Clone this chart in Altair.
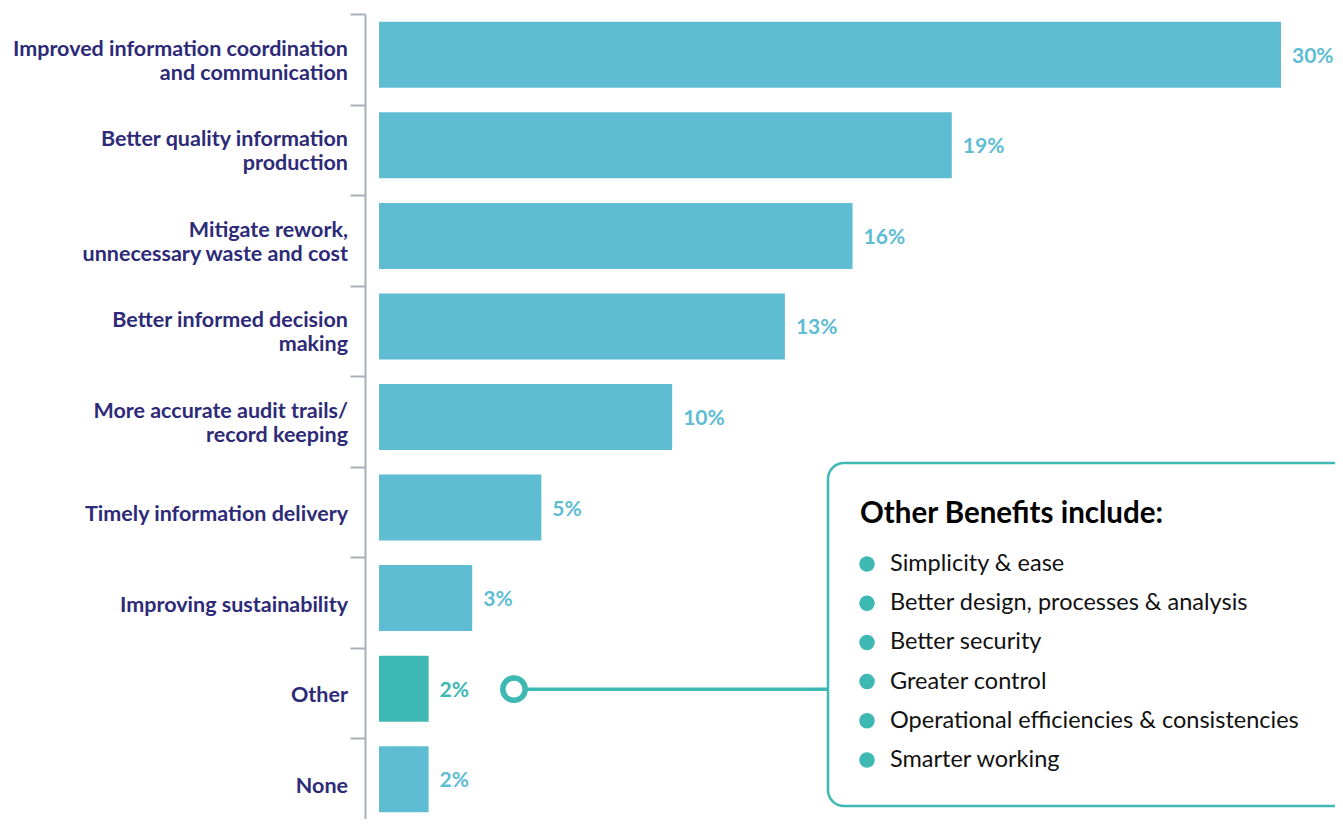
import altair as alt
import pandas as pd

categories = [
    "Improved information coordination|and communication",
    "Better quality information|production",
    "Mitigate rework,|unnecessary waste and cost",
    "Better informed decision|making",
    "More accurate audit trails/|record keeping",
    "Timely information delivery",
    "Improving sustainability",
    "Other",
    "None",
]
bar_values = [30.0, 19.05, 15.75, 13.5, 9.75, 5.4, 3.1, 1.65, 1.65]
value_labels = ["30%", "19%", "16%", "13%", "10%", "5%", "3%", "2%", "2%"]
highlight = [False, False, False, False, False, False, False, True, False]

box_title = "Other Benefits include:"
other_benefits = [
    "Simplicity & ease",
    "Better design, processes & analysis",
    "Better security",
    "Greater control",
    "Operational efficiencies & consistencies",
    "Smarter working",
]

BLUE = "#5EBCD3"
TEAL = "#3DB8B2"
NAVY = "#2D2A78"
GREY = "#A7B0B8"
FONT = "Lato"

df = pd.DataFrame({
    "cat": categories,
    "value": bar_values,
    "label": value_labels,
    "hl": highlight,
})
parts = [c.split("|") for c in categories]
df["line1"] = [p[0] for p in parts]
df["line2"] = [p[1] if len(p) > 1 else "" for p in parts]
df["nlines"] = [len(p) for p in parts]
ben = pd.DataFrame({"item": other_benefits, "i": list(range(len(other_benefits)))})

W, H = 956, 805
xscale = alt.Scale(domain=[0, 30 * W / 902], nice=False, zero=True)
yscale = alt.Scale(domain=categories, paddingInner=0, paddingOuter=0, range=[0, 815])

y_axis = alt.Y(
    "cat:N",
    sort=categories,
    scale=yscale,
    title=None,
    axis=alt.Axis(
        offset=14,
        tickBand="extent",
        tickSize=15,
        tickColor=GREY,
        tickWidth=2,
        domainColor=GREY,
        domainWidth=2,
        labels=False,
    ),
)
y_plain = alt.Y("cat:N", sort=categories, scale=yscale)

bars = alt.Chart(df).mark_bar(yOffset=-4.5, size=66).encode(
    x=alt.X("value:Q", scale=xscale, axis=None),
    y=y_axis,
    color=alt.condition("datum.hl", alt.value(TEAL), alt.value(BLUE)),
)

texts = alt.Chart(df).mark_text(
    align="left", baseline="middle", dx=11, yOffset=-2.5,
    font=FONT, fontSize=21, fontWeight="bold",
).encode(
    x=alt.X("value:Q", scale=xscale),
    y=y_plain,
    text="label:N",
    color=alt.condition("datum.hl", alt.value(TEAL), alt.value(BLUE)),
)

lab_style = dict(align="right", baseline="middle", font=FONT, fontSize=21.5,
                 fontWeight="bold", color=NAVY)
single_lab = alt.Chart(df).transform_filter("datum.nlines == 1").mark_text(
    yOffset=3, **lab_style
).encode(x=alt.value(-31), y=y_plain, text="line1:N")
first_lab = alt.Chart(df).transform_filter("datum.nlines == 2").mark_text(
    yOffset=-9.5, **lab_style
).encode(x=alt.value(-31), y=y_plain, text="line1:N")
second_lab = alt.Chart(df).transform_filter("datum.nlines == 2").mark_text(
    yOffset=14.5, **lab_style
).encode(x=alt.value(-31), y=y_plain, text="line2:N")

other_df = df[df["hl"]]
box = alt.Chart(other_df).mark_rect(
    fill="white", stroke=TEAL, strokeWidth=2.5, cornerRadius=16,
).encode(
    x=alt.value(449), x2=alt.value(1000),
    y=alt.value(449), y2=alt.value(792),
)

connector = alt.Chart(other_df).mark_rule(
    color=TEAL, strokeWidth=3.5, yOffset=-4,
).encode(
    x=alt.value(135), x2=alt.value(449),
    y=y_plain,
)

ring = alt.Chart(other_df).mark_point(
    shape="circle", size=500, filled=False, fill="white", fillOpacity=1,
    stroke=TEAL, strokeWidth=5.5, opacity=1, yOffset=-4,
).encode(
    x=alt.value(135),
    y=y_plain,
)

title_txt = alt.Chart(pd.DataFrame({"t": [box_title]})).mark_text(
    align="left", baseline="middle", font=FONT, fontSize=29.5,
    fontWeight="bold", color="#000000",
).encode(x=alt.value(481), y=alt.value(500), text="t:N")

bullet_y = alt.Y("py:Q", scale=None)
dots = alt.Chart(ben).transform_calculate(py="550 + 39.2 * datum.i").mark_circle(
    size=240, color=TEAL, opacity=1,
).encode(x=alt.value(488), y=bullet_y)

items = alt.Chart(ben).transform_calculate(py="550 + 39.2 * datum.i").mark_text(
    align="left", baseline="middle", font=FONT, fontSize=23.5, color="#111111",
).encode(x=alt.value(511), y=bullet_y, text="item:N")

chart = alt.layer(
    bars, texts, single_lab, first_lab, second_lab,
    connector, box, ring, title_txt, dots, items
).properties(
    width=W, height=H,
    background="white",
    autosize=alt.AutoSizeParams(type="none"),
    padding={"left": 371, "top": 6, "right": 0, "bottom": 0},
).configure_view(stroke=None)

chart.save("out.html", embed_options={"renderer": "svg", "actions": False})
